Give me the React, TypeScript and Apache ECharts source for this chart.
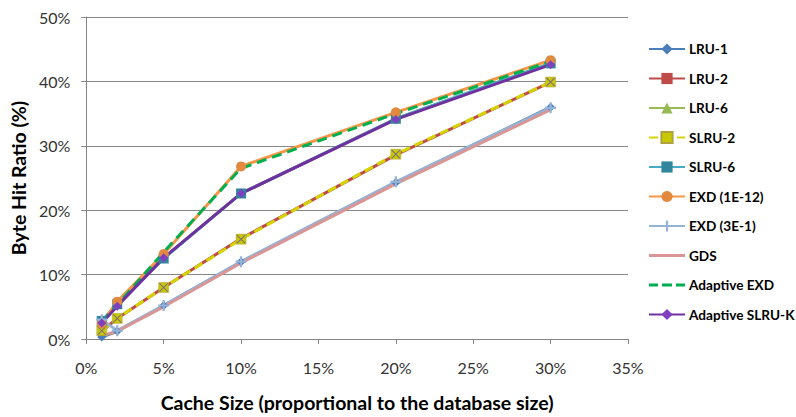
import React, { useEffect, useRef } from "react";
import * as echarts from "echarts";

const cacheSizes = [1, 2, 5, 10, 20, 30];
const lru1 = [0.3, 1.2, 5.2, 12.0, 24.3, 36.0];
const lru2 = [1.2, 3.2, 8.0, 15.6, 28.6, 39.9];
const lru6 = [2.8, 5.4, 12.6, 22.6, 34.2, 42.8];
const slru2 = [1.3, 3.2, 8.0, 15.5, 28.7, 39.9];
const slru6 = [2.8, 5.4, 12.5, 22.6, 34.2, 42.8];
const exd1e12 = [2.4, 5.8, 13.2, 26.8, 35.2, 43.3];
const exd3e1 = [3.0, 1.3, 5.2, 12.0, 24.4, 35.9];
const gds = [0.5, 1.2, 5.0, 11.8, 24.1, 35.6];
const adaptiveExd = [2.7, 5.3, 13.5, 26.5, 35.0, 43.1];
const adaptiveSlruK = [2.5, 5.1, 12.6, 22.6, 34.1, 42.6];

const seriesNames = [
  "LRU-1",
  "LRU-2",
  "LRU-6",
  "SLRU-2",
  "SLRU-6",
  "EXD (1E-12)",
  "EXD (3E-1)",
  "GDS",
  "Adaptive EXD",
  "Adaptive SLRU-K",
];

const xTicks = { min: 0, max: 35, interval: 5 };
const yTicks = { min: 0, max: 50, interval: 10 };

const FONT = "Lato, 'Open Sans', sans-serif";

const crossPath =
  "path://M4,0 L6,0 L6,4 L10,4 L10,6 L6,6 L6,10 L4,10 L4,6 L0,6 L0,4 L4,4 Z";
const xMarkPath =
  "path://M0,0.8 L0.8,0 L10,9.2 L9.2,10 Z M9.2,0 L10,0.8 L0.8,10 L0,9.2 Z";
const solidLineIcon = "path://M0,5.5 L36,5.5 L36,8.5 L0,8.5 Z";
const dashLineIcon =
  "path://M0,5.5 L9,5.5 L9,8.5 L0,8.5 Z M13,5.5 L23,5.5 L23,8.5 L13,8.5 Z M27,5.5 L36,5.5 L36,8.5 L27,8.5 Z";

function pts(vals: number[]) {
  return cacheSizes.map((x, i) => [x, vals[i]]);
}

export default function App() {
  const ref = useRef<HTMLDivElement>(null);
  useEffect(() => {
    if (!ref.current) return;
    const chart = echarts.init(ref.current, undefined, { renderer: "svg" });
    const mk = (
      name: string,
      vals: number[],
      color: string,
      symbol: string,
      symbolSize: number,
      markerColor: string,
      extra: any = {}
    ) => ({
      name,
      type: "line",
      data: pts(vals),
      symbol,
      symbolSize,
      showSymbol: symbol !== "none",
      color,
      lineStyle: {
        color,
        width: 3,
        type: extra.dash || "solid",
        opacity: extra.noLine ? 0 : 1,
      },
      itemStyle: {
        color: markerColor,
        borderColor: extra.border || markerColor,
        borderWidth: extra.borderWidth || 0,
      },
      emphasis: { disabled: true },
    });
    const titleStyle = {
      fontFamily: FONT,
      fontWeight: "bold",
      fontSize: 19.5,
      color: "#000",
    };
    const labelStyle = {
      formatter: "{value}%",
      fontFamily: FONT,
      fontSize: 16,
      color: "#333",
    };
    chart.setOption({
      animation: false,
      textStyle: { fontFamily: FONT },
      grid: { left: 85, right: 168, top: 17, bottom: 73 },
      legend: {
        orient: "vertical",
        left: 648,
        top: 42,
        padding: 0,
        itemWidth: 36,
        itemHeight: 14,
        itemGap: 15.5,
        textStyle: {
          fontFamily: FONT,
          fontWeight: "bold",
          fontSize: 13.6,
          color: "#000",
          padding: [0, 0, 0, -1],
        },
        data: seriesNames.map((n) =>
          n === "GDS"
            ? { name: n, icon: solidLineIcon }
            : n === "Adaptive EXD"
            ? { name: n, icon: dashLineIcon }
            : { name: n }
        ),
      },
      xAxis: {
        type: "value",
        ...xTicks,
        name: "Cache Size (proportional to the database size)",
        nameLocation: "middle",
        nameGap: 53,
        nameTextStyle: titleStyle,
        axisLine: { show: true, lineStyle: { color: "#868686", width: 1 } },
        axisTick: { show: true, length: 5, lineStyle: { color: "#868686" } },
        axisLabel: { ...labelStyle, margin: 20 },
        splitLine: { show: false },
      },
      yAxis: {
        type: "value",
        ...yTicks,
        name: "Byte Hit Ratio (%)",
        nameLocation: "middle",
        nameGap: 55,
        nameTextStyle: titleStyle,
        axisLine: { show: true, lineStyle: { color: "#868686", width: 1 } },
        axisTick: { show: true, length: 5, lineStyle: { color: "#868686" } },
        axisLabel: { ...labelStyle, margin: 16 },
        splitLine: { show: true, lineStyle: { color: "#868686", width: 1 } },
      },
      series: [
        mk("LRU-1", lru1, "#4A7EBB", "diamond", 9, "#4A7EBB"),
        mk("LRU-2", lru2, "#BE4B48", "rect", 8, "#BE4B48"),
        mk("LRU-6", lru6, "#98B954", "triangle", 9, "#98B954"),
        mk("SLRU-2", slru2, "#D4D400", "rect", 10, "#C8C800", {
          dash: [9, 5],
          border: "#B0A040",
          borderWidth: 0.5,
        }),
        mk("SLRU-2", slru2, "#D4D400", xMarkPath, 9, "#7F6A8A", {
          noLine: true,
        }),
        mk("SLRU-6", slru6, "#46AAC5", "rect", 10, "#31859C"),
        mk("EXD (1E-12)", exd1e12, "#F79646", "circle", 10, "#E3893F"),
        mk("EXD (3E-1)", exd3e1, "#95B3D7", crossPath, 11, "#95B3D7"),
        mk("GDS", gds, "#D99694", "none", 0, "#D99694"),
        mk("Adaptive EXD", adaptiveExd, "#00B050", "none", 0, "#00B050", {
          dash: [10, 6],
        }),
        mk("Adaptive SLRU-K", adaptiveSlruK, "#7030A0", "diamond", 9, "#7F3FBF"),
      ],
    });
    return () => chart.dispose();
  }, []);
  return (
    <div
      ref={ref}
      style={{ position: "absolute", left: 0, top: 0, width: 796, height: 417 }}
    />
  );
}
